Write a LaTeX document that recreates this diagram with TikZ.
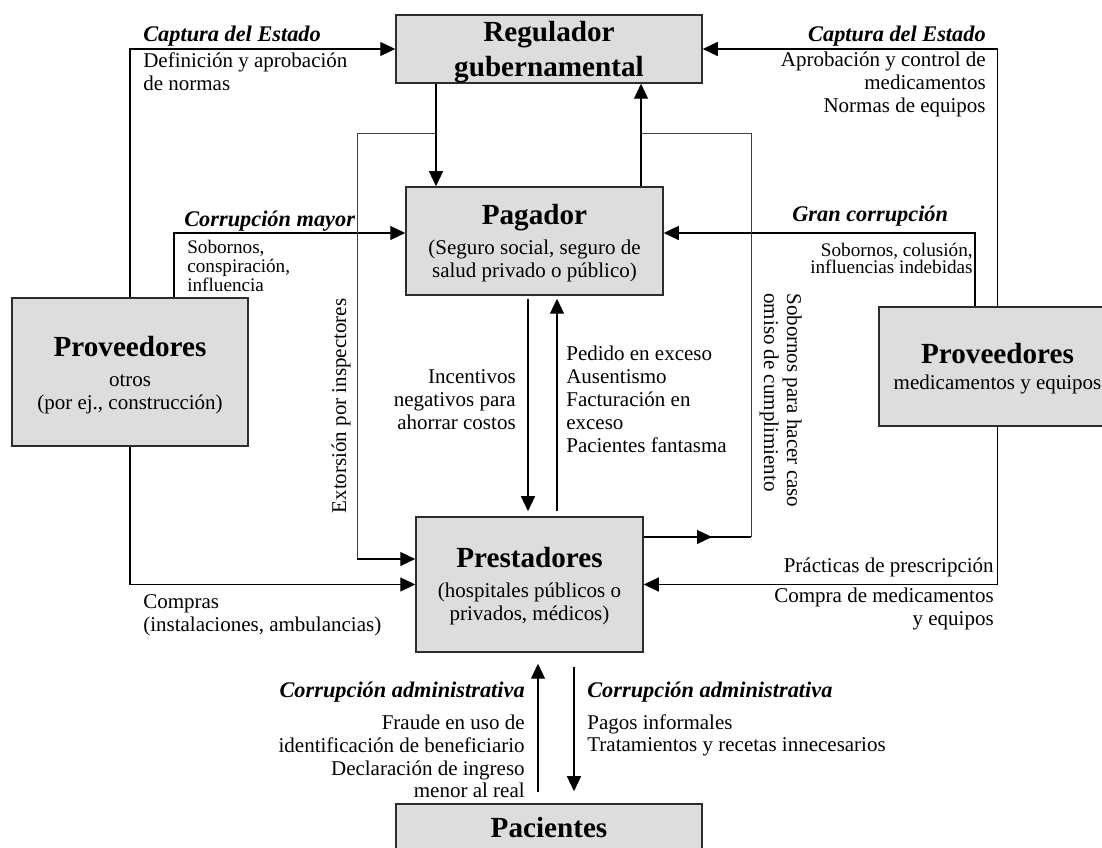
\documentclass[tikz,border=0pt]{standalone}
\usepackage{fontspec}
\setmainfont{Liberation Serif}
\usetikzlibrary{arrows.meta}
\definecolor{grisc}{RGB}{221,221,221}
\definecolor{borde}{RGB}{45,45,45}

\begin{document}
\begin{tikzpicture}[x=0.6pt,y=-0.6pt,
  caja/.style={draw=borde,line width=0.9pt,fill=grisc,inner sep=0pt},
  titulo/.style={inner sep=0pt,anchor=base,align=center,font=\fontsize{17.5}{21}\selectfont\bfseries},
  sub/.style={inner sep=0pt,anchor=base,align=center,font=\fontsize{12.6}{13.8}\selectfont},
  txt/.style={inner sep=0pt,font=\fontsize{12.6}{13.8}\selectfont},
  chico/.style={inner sep=0pt,font=\fontsize{11.5}{11.4}\selectfont},
  rotulo/.style={inner sep=0pt,font=\fontsize{13.4}{15}\selectfont\bfseries\itshape},
  linea/.style={line width=0.7pt},
  flecha/.style={line width=0.7pt,-{Triangle[length=\lf,width=\wf]}},
  lazo/.style={line width=0.5pt,black!75}]
\def\lf{9pt}
\def\wf{8.4pt}
\useasboundingbox (0,0) rectangle (1102,848);

\node [caja, minimum width=183.6pt, minimum height=40.8pt, name=reg]   at (549,49) {};
\node [caja, minimum width=154.2pt, minimum height=64.8pt, name=pag]   at (534.5,241) {};
\node [caja, minimum width=136.2pt, minimum height=81pt,   name=pres]  at (529.5,584.5) {};
\node [caja, minimum width=141.6pt, minimum height=88.8pt, name=provO] at (130,372) {};
\node [caja, minimum width=142.2pt, minimum height=71.4pt, name=provM] at (997.5,366.5) {};
\node [caja, minimum width=183.6pt, minimum height=40.8pt, name=pac]   at (549,838) {};

\coordinate (xrp) at (436,0);
\coordinate (xpr) at (641,0);
\coordinate (xma) at (174,0);
\coordinate (xgc) at (975,0);
\coordinate (xex) at (357,0);
\coordinate (xso) at (751,0);
\coordinate (xin) at (528,0);
\coordinate (xpe) at (557,0);
\coordinate (xfr) at (538,0);
\coordinate (xpa) at (574,0);
\coordinate (yma) at (0,233);
\coordinate (ylz) at (0,133);
\coordinate (yex) at (0,559);
\coordinate (yso) at (0,537);
\coordinate (pso) at (712,537);

\draw [flecha](provO.north) |- (reg.west);
\draw [flecha](provM.north) |- (reg.east);
\draw [flecha](provO.north -| xma) |- (pag.west |- yma);
\draw [flecha](provM.north -| xgc) |- (pag.east |- yma);
\draw [flecha](reg.south -| xrp) -- (pag.north -| xrp);
\draw [flecha](pag.north -| xpr) -- (reg.south -| xpr);
\draw [lazo](xrp |- ylz) -| (xex |- yex);
\draw [flecha](xex |- yex) -- (pres.west |- yex);
\draw [linea](pres.east |- yso) -- (xso |- yso);
\draw [flecha](pres.east |- yso) -- (pso);
\draw [lazo](xso |- yso) |- (xpr |- ylz);
\draw [flecha](provO.south) |- (pres.west);
\draw [flecha](provM.south) |- (pres.east);
\draw [flecha, shorten <=1.8pt, shorten >=3pt](pag.south -| xin) -- (pres.north -| xin);
\draw [flecha, shorten <=3pt, shorten >=1.8pt](pres.north -| xpe) -- (pag.south -| xpe);
\draw [flecha, shorten <=6.6pt, shorten >=6.6pt](pac.north -| xfr) -- (pres.south -| xfr);
\draw [flecha, shorten <=8.4pt, shorten >=7.2pt](pres.south -| xpa) -- (pac.north -| xpa);

\node [titulo, name=treg]   at (549,77) {Regulador\\gubernamental};
\node [titulo, name=tpag]   at (534.5,225) {Pagador};
\node [sub,    name=spag]   at (534.5,278) {(Seguro social, seguro de\\salud privado o público)};
\node [titulo, name=tpres]  at (529.5,568) {Prestadores};
\node [sub,    name=spres]  at (529.5,621) {(hospitales públicos o\\privados, médicos)};
\node [titulo, name=tprovO] at (130,357) {Proveedores};
\node [sub,    name=sprovO] at (130,410) {otros\\(por ej., construcción)};
\node [titulo, name=tprovM] at (997.5,364) {Proveedores};
\node [sub,    name=sprovM] at (997.5,390) {medicamentos y equipos};
\node [titulo, name=tpac]   at (549,838) {Pacientes};

\node [rotulo, anchor=base west, name=cap1] at (143,42) {Captura del Estado};
\node [txt, anchor=base west, align=left, name=def1] at (143,91) {Definición y aprobación\\de normas};
\node [rotulo, anchor=base east, name=cap2] at (986,42) {Captura del Estado};
\node [txt, anchor=base east, align=right, name=apr] at (986,113) {Aprobación y control de\\medicamentos\\Normas de equipos};
\node [rotulo, anchor=base west, name=cmay] at (184,227) {Corrupción mayor};
\node [chico, anchor=base west, align=left, name=sob1] at (187,292) {Sobornos,\\conspiración,\\influencia};
\node [rotulo, anchor=base west, name=gcor] at (792,222) {Gran corrupción};
\node [chico, anchor=base east, align=right, font=\fontsize{11.5}{10.4}\selectfont, name=sob2] at (973,274) {Sobornos, colusión,\\influencias indebidas};
\node [txt, rotate=90, name=ext] at (341,406) {Extorsión por inspectores};
\node [txt, rotate=-90, anchor=north west, align=left, name=sob3] at (802,293) {Sobornos para hacer caso\\omiso de cumplimiento};
\node [txt, anchor=base east, align=right, name=inc] at (516,430) {Incentivos\\negativos para\\ahorrar costos};
\node [txt, anchor=base west, align=left, name=ped] at (566,453) {Pedido en exceso\\Ausentismo\\Facturación en\\exceso\\Pacientes fantasma};
\node [txt, anchor=base west, align=left, name=com] at (143,632) {Compras\\(instalaciones, ambulancias)};
\node [txt, anchor=base east, name=pra] at (994,573) {Prácticas de prescripción};
\node [txt, anchor=base east, align=right, name=cmed] at (994,626) {Compra de medicamentos\\y equipos};
\node [rotulo, anchor=base east, name=cad1] at (525,698) {Corrupción administrativa};
\node [txt, anchor=base east, align=right, font=\fontsize{12.6}{13.6}\selectfont, name=fra] at (525,798) {Fraude en uso de\\identificación de beneficiario\\Declaración de ingreso\\menor al real};
\node [rotulo, anchor=base west, name=cad2] at (587,698) {Corrupción administrativa};
\node [txt, anchor=base west, align=left, font=\fontsize{12.6}{13.6}\selectfont, name=pinf] at (587,752) {Pagos informales\\Tratamientos y recetas innecesarios};
\end{tikzpicture}
\end{document}
